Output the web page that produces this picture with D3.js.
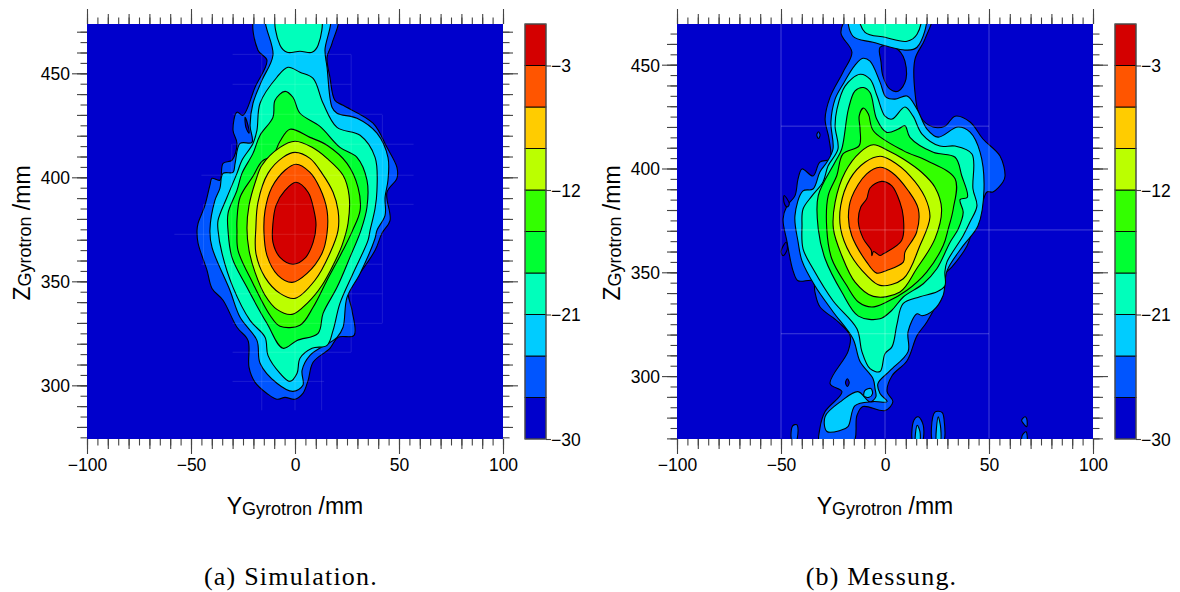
<!DOCTYPE html>
<html><head><meta charset="utf-8">
<script src="https://cdn.jsdelivr.net/npm/d3@7"></script>
<style>html,body{margin:0;padding:0;background:#fff}svg{display:block}</style>
</head><body><svg id="c" width="1180" height="592"></svg>
<script>
const bandLevels=[-30,-27,-24,-21,-18,-15,-12,-9,-6,-3,0];
const bandColors=["#0000cc","#0055ff","#00ccff","#00ffbb","#00ff33","#33ff00","#bbff00","#ffcc00","#ff5500","#d40000"];
const barLabels=[-3,-12,-21,-30];
const yTicks=[-100,-50,0,50,100];
const zTicks=[300,350,400,450];

/* Simulation contours: [Y mm, Z mm] */
const simM27=[[20.2,477.9],[17.8,464.4],[15.4,457.7],[16.8,448.1],[19.2,437],[23.1,434.6],[37.5,426],[44.2,414.4],[49,404.8],[49,399.5],[44.2,392.8],[45.7,379.3],[41.8,373.1],[38.5,364.9],[29.8,351.9],[25.5,345.7],[27.4,336.1],[28.4,324],[20.7,323.1],[16.8,317.8],[8.7,311.1],[6.3,302.4],[3.8,296.1],[0,293.3],[-4.8,294.2],[-8.7,293.3],[-13.5,296.1],[-19.2,301.4],[-22.1,308.6],[-22.6,321.6],[-27.9,327.9],[-34.6,340.9],[-39.9,346.6],[-42.3,355.3],[-46.6,368.3],[-47.1,374.5],[-46.6,377.9],[-43.3,386.5],[-40.9,396.2],[-39.9,399.5],[-36.1,398.6],[-34.6,406.7],[-30.3,408.2],[-27.9,416.3],[-29.8,422.6],[-27.9,431.3],[-25,429.8],[-19.2,443.3],[-13.5,456.3],[-17.8,461.1],[-18.8,477.9]];
const simHole=[[-24,428.8],[-22.6,425],[-22.1,421.2],[-23.6,424]];
const simM24=[[16.3,477.9],[14.4,461.1],[15.4,452.9],[17.8,433.7],[20.2,430.8],[29.8,428.4],[39.4,421.2],[44.7,409.6],[44.7,398.6],[43.3,390.4],[43.3,381.7],[39.4,374.5],[38.5,370.7],[31.3,353.8],[25,342.3],[23.1,327.9],[20.2,323.1],[7.2,314.4],[3.4,307.2],[3.8,300],[-1,297.1],[-8.7,301],[-16.8,310.6],[-18.3,321.6],[-26.4,332.7],[-31.3,345.7],[-39.9,366.3],[-40.9,374.5],[-38.5,388.9],[-36.1,394.7],[-34.6,401.9],[-29.8,402.4],[-28.8,406.7],[-26.4,416.3],[-20.7,416.8],[-21.6,425],[-20.2,435.6],[-15.9,446.6],[-10.6,458.7],[-13.5,477.9]];
const simM21=[[-3.4,452.9],[2.4,450.5],[8.7,447.6],[13.5,435.6],[20.2,424],[31.3,420.2],[38.5,409.6],[39.4,393.7],[38.5,385.1],[36.1,374.5],[35.1,369.7],[27.9,353.8],[21.6,339.4],[18.3,326.4],[15.4,319.2],[8.2,317.8],[2.4,313],[1,305.8],[-2.4,301.9],[-7.2,305.8],[-13,314.4],[-14.4,323.1],[-21.6,331.2],[-29.8,347.1],[-35.1,363.5],[-37,374.5],[-37,379.3],[-32.7,390.4],[-27.9,401.9],[-25.5,408.2],[-20.2,416.3],[-18.3,422.6],[-16.8,435.6],[-8.7,448.1]];
const simM21Top=[[-8.7,477.9],[-7.2,463.5],[-3.8,460.1],[2.4,460.6],[8.2,460.1],[11.1,463.5],[12,477.9]];
const simM18=[[-4.8,441.3],[-1,438.5],[2.4,430.8],[12,424.5],[21.6,414.4],[29.8,409.6],[34.6,398.6],[34.6,385.6],[31.7,374.5],[26.4,361.5],[20.2,347.1],[13.5,334.6],[11.1,325],[1,321.6],[-5.8,317.8],[-13.5,329.8],[-23.1,347.1],[-30.3,361.5],[-32.2,374.5],[-32.2,382.7],[-27.9,393.7],[-25.5,401.9],[-20.2,411.5],[-16.8,420.2],[-10.6,428.8],[-9.6,437]];
const simM15=[[-2.4,423.1],[7.2,419.2],[15.4,415.4],[25,406.7],[30.3,395.2],[31.3,384.1],[27.7,374.5],[23.1,365],[15.4,350.5],[8.7,337.5],[2.4,328.9],[-7.2,328.4],[-12,333.7],[-20.2,349],[-27.4,364.9],[-27.9,374.5],[-27.9,379.3],[-26.4,390.4],[-20.2,400.5],[-15.9,407.7],[-10.6,410.6],[-7.2,417.3]];
const simM12=[[0,417.3],[8.2,414.4],[15.4,409.1],[23.1,401],[26,391.3],[25.5,377.9],[22.6,367.3],[18.3,357.7],[13,348.1],[6.3,339.9],[-1.4,334.1],[-8.7,336.5],[-14.4,343.3],[-19.2,354.3],[-22.1,364.9],[-23.1,375.5],[-22.1,386.5],[-18.8,398.6],[-15.9,405.8],[-7.2,414.4]];
const simM9=[[0,412],[7.2,409.1],[13,401.9],[18.3,392.8],[20.7,384.1],[20.7,374.5],[16.8,363.5],[9.6,350.5],[0,341.8],[-7.2,344.2],[-14.4,351.9],[-18.8,363.5],[-18.8,376],[-17.8,388],[-13,401.9],[-5.8,409.6]];
const simM6=[[0.5,406.3],[7.2,402.4],[12,394.7],[15.4,384.1],[15.4,373.1],[13,363.5],[5.8,353.8],[-1.4,349.5],[-8.2,352.9],[-13.5,362.5],[-14.9,373.1],[-14.4,384.1],[-11.1,395.2],[-4.8,403.4]];
const simM3=[[0.5,397.6],[6.3,392.8],[9.1,384.1],[10.1,376.9],[8.7,368.7],[4.8,361.1],[-1,358.2],[-7.2,361.5],[-10.6,368.7],[-10.6,377.9],[-9.1,386.5],[-4.8,393.7]];

/* Measurement contours */
const mesM27=[[22.1,474.3],[19.2,462.3],[14.4,452.6],[14.4,436.8],[16.8,425.2],[23.1,420],[28.8,420.4],[33.7,425.2],[40.9,422.4],[47.1,414.2],[55.3,406],[57.7,396.4],[56.7,393.5],[51.9,388.7],[49,388.7],[45.7,379.1],[42.3,370.9],[39.4,362.7],[32.2,352.6],[27.9,348.3],[27.9,342],[20.2,326.2],[15.4,319.5],[10.6,307.4],[3.4,300.2],[1,292.5],[3.8,287.7],[0,283.4],[-10.6,285.3],[-13.5,281],[-15.4,267.5],[-31.3,267.5],[-31.3,274.8],[-28.8,282.9],[-20.7,292.5],[-26.4,296.4],[-17.8,311.8],[-16.8,319.5],[-22.6,326.2],[-31.3,333.4],[-33.7,340.6],[-34.6,345.9],[-41.8,345.9],[-44.2,350.7],[-47.1,364.7],[-49,375.7],[-47.1,382],[-43.3,386.8],[-41.8,395],[-39.9,399.8],[-34.6,396.4],[-31.3,403.1],[-26.4,404.6],[-26.9,414.2],[-28.8,423.8],[-26.4,434.4],[-20.2,446.4],[-15.9,456],[-21.2,465.6],[-15.9,474.3]];
const mesHole=[[-2.4,458.4],[3.4,458.9],[8.7,454.1],[10.1,443],[6.3,437.2],[2.4,438.2],[-1,444.5],[-1.9,451.2]];
const mesHoleA=[[-18.1,298.7],[-17.2,296.9],[-18.1,295],[-19,296.9]];
const mesHoleB=[[-48.5,387],[-46,383],[-47,381.5],[-48.5,383.5]];
const mesHoleC=[[-47.5,364.5],[-47,361],[-49,358],[-50,360]];
const mesIsle1=[[-44.8,269],[-44.4,276],[-42.4,276.6],[-41.8,274],[-43,268]];
const mesIsle2=[[13.6,268],[13.9,278.7],[16,280.4],[18.4,276.3],[17.6,268]];
const mesIsle3=[[23.2,268],[24,282.6],[27.4,282.5],[28.4,279],[27.9,268]];
const mesIsle4=[[65.7,278.7],[67.3,280.4],[68.1,279.6],[68.1,275.6],[66.5,277.2]];
const mesIsle5=[[66,271.5],[67.8,273.2],[68.1,268],[66,268]];
const mesIsle6=[[-32,417.7],[-31.2,416.1],[-32,414.5],[-32.8,416.1]];
const mesM24=[[-10.6,453.1],[-7.2,451.7],[-2.4,441.6],[0.5,434.4],[4.8,433.4],[10.6,434.9],[15.4,428.6],[20.2,419],[25.5,415.1],[35.1,420],[40.9,417.5],[45.7,407.9],[47.6,390.1],[44.7,372.4],[37.5,362.7],[29.8,350.7],[27.9,338.7],[23.1,331.5],[17.8,329.1],[15.4,330],[11.1,321.4],[11.1,311.8],[2.4,302.6],[-3.4,296.4],[-2.4,291.6],[1,287.7],[-5.8,287.7],[-14.4,285.8],[-17.8,275.7],[-21.6,273.8],[-27.9,273.3],[-28.8,280.5],[-20.7,288.2],[-13,292.5],[-7.2,287.6],[-4.4,290],[-4.8,294],[-5.8,298.8],[-12,307],[-15.4,318],[-25,331],[-33.7,343.5],[-39.9,355.5],[-41.8,364.7],[-43.3,377.2],[-39.4,389.2],[-34.6,390.1],[-31.3,398.3],[-27.9,403.1],[-25,409.4],[-26,422.4],[-24,433.4],[-20.2,440.6],[-14.4,449.8]];
const mesM24Top=[[-16.8,474.3],[-15.4,463.7],[-5.8,460.8],[10.6,457],[15.4,458.4],[19.2,474.3]];
const mesM24Isle2=[[14.8,268],[15.5,276.3],[16.8,273.3],[16.5,268]];
const mesM24Isle3=[[24.9,268],[25.6,280.4],[26.8,274.8],[26.4,268]];
const mesM24Ring=[[-9.6,293.1],[-6.8,294],[-6,291.6],[-7.6,289.8],[-10.1,290.4]];
const mesM21=[[-12,445.4],[-7.2,443],[-3.8,434.9],[0,425.2],[3.4,423.8],[9.6,429.6],[13.5,425.2],[17.8,416.6],[26.4,410.8],[33.7,410.8],[41.8,407],[42.3,390.1],[44.2,382],[40.9,374.3],[37.5,367.5],[29.8,355],[28.8,350.2],[28.8,343.5],[25,340.6],[16.8,338.2],[8.7,334.9],[5.8,325.2],[3.4,314.2],[0,310.8],[-2.4,302.2],[-7.2,303.6],[-11.1,311.8],[-13.5,322.8],[-25,336.3],[-34.6,351.7],[-39.4,361.3],[-39.9,372.4],[-39.4,380.5],[-35.1,386.8],[-29.8,393.5],[-27.4,401.2],[-22.6,409.4],[-24,420.4],[-23.1,428.6],[-19.2,439.7]];
const mesM21Top=[[-12,474.3],[-9.6,465.6],[0,463.2],[10.6,461.3],[15.4,464.7],[16.8,474.3]];
const mesM18=[[-10.4,439],[-7.2,436.6],[-4,423.8],[0.8,417.4],[6.4,419],[9.6,420.6],[12,415],[23.2,407.8],[33.7,405.4],[36.9,396.5],[39.6,386.2],[36.1,385],[37.6,378.9],[35.2,370.9],[31.3,364.5],[24.9,351.7],[18.4,344.5],[8.8,338.1],[3.2,331.6],[-2.4,327.6],[-12.8,328.9],[-20.8,340.5],[-28.8,356.5],[-32.1,370.9],[-32.1,386.9],[-24,403.1],[-20.8,409.4],[-17.6,428.6],[-14.4,437.4]];
const mesM15=[[-10.4,429.1],[-8,426.2],[-5.6,418.2],[8.8,408.6],[20,403.8],[33.7,395],[32.8,380.5],[30.4,370.9],[28,362.9],[20,350.1],[10.4,341.2],[0.8,335.7],[-6.4,333.3],[-12.8,335.7],[-18.4,343.6],[-25.6,356.5],[-28,370.9],[-27.3,386.9],[-23.2,396.5],[-20.2,407],[-12.4,411],[-12,419],[-12.4,425.4]];
const mesM12=[[-5.6,411.4],[1.6,408.6],[8.8,404.6],[17.6,398.2],[24,391],[27.2,380.5],[24,366.1],[15.2,351.7],[7.2,340.5],[-5.6,338.4],[-14.4,345.3],[-20.8,358.1],[-24.8,370.9],[-24,383.7],[-19.2,398.2],[-12,407.8]];
const mesM9=[[-2.4,405.9],[3.2,403.7],[12,396.5],[19.2,386.2],[21.6,376.5],[16.8,362.9],[8.8,346.9],[-2.4,343.7],[-8.8,348.5],[-16.8,358.9],[-21.3,370.9],[-21.3,382.1],[-16.8,395],[-9.6,403]];
const mesM6=[[-2.4,400.6],[3.2,398.2],[11.2,389.3],[16,380.5],[15.2,369.3],[9.6,359.7],[8.8,354.9],[0.8,350.9],[-4,349.6],[-8.8,354.9],[-16,367.7],[-17.6,376.5],[-16,386.2],[-8.8,397.4]];
const mesM3=[[-1.6,393.8],[3.2,391.7],[7.2,383.7],[8.8,376.5],[8,365.3],[-0.8,358.9],[-2.4,358.1],[-5.5,360],[-6.3,358],[-6.6,360.6],[-10.4,366.1],[-12.8,374.2],[-11.7,381.3],[-8.8,385.4],[-7.2,390.6]];

/* faint artefact lines: [y1,z1,y2,z2] */
const simFaint=[[-30,459.1,27,459.1],[-30,444.7,27,444.7],[-30,430.3,42,430.3],[-30,415.9,57,415.9],[-45,401,57,401],[-44,387,57,387],[-58,372.6,42,372.6],[-45,358.2,42,358.2],[-30,344,42,344],[-30,329.8,42,329.8],[-30,315.9,27,315.9],[-30,301.9,14,301.9],[-16,288,-16,459],[-30.4,345,-30.4,416],[-44,358,-44,387],[12.8,288,12.8,316],[27,316,27,459],[42,330,42,430],[0,288,0,460]];
const mesFaint=[[-50,270,-50,470],[50,270,50,470],[0,270,0,470],[-50,420.4,50,420.4],[-50,370.4,100,370.4],[-50,320.4,50,320.4]];

const simLayers=[[simM27,1],[simHole,0],[simM24,2],[simM21,3],[simM21Top,3],[simM18,4],[simM15,5],[simM12,6],[simM9,7],[simM6,8],[simM3,9]];
const mesLayers=[[mesM27,1],[mesHole,0],[mesHoleA,0],[mesHoleB,0],[mesHoleC,0],[mesIsle1,1],[mesIsle2,1],[mesIsle3,1],[mesIsle4,1],[mesIsle5,1],[mesIsle6,1],[mesM24,2],[mesM24Top,2],[mesM24Isle2,2],[mesM24Isle3,2],[mesM24Ring,2],[mesM21,3],[mesM21Top,3],[mesM18,4],[mesM15,5],[mesM12,6],[mesM9,7],[mesM6,8],[mesM3,9]];

const svg=d3.select("#c");
const sans="'Liberation Sans',Arial,sans-serif";
const tickCol="#444";

function tickAxes(g,gen,sc,vals5,size,tf,transform){
  const a=g.append("g").attr("transform",transform).call(gen(sc).tickValues(vals5).tickSize(size).tickFormat(tf));
  a.select(".domain").remove();
  a.selectAll("line").attr("stroke",tickCol).attr("stroke-width",1.1);
  a.selectAll("text").attr("font-family",sans).attr("font-size",17.5).attr("fill","#000");
  return a;
}

function panel(o){
  const g=svg.append("g");
  const x=d3.scaleLinear().domain([-100,100]).range([o.left,o.left+416]);
  const z=d3.scaleLinear().domain(o.zDom).range([439,24]);
  const id="clip"+o.left;
  svg.append("clipPath").attr("id",id).append("rect").attr("x",o.left).attr("y",24).attr("width",416).attr("height",415);
  g.append("rect").attr("x",o.left).attr("y",24).attr("width",416).attr("height",415).attr("fill",bandColors[0]);
  const plot=g.append("g").attr("clip-path",`url(#${id})`);
  const line=d3.line().x(d=>x(d[0])).y(d=>z(d[1])).curve(d3.curveCatmullRomClosed.alpha(0.5));
  plot.selectAll("path.b").data(o.layers).join("path").attr("class","b")
    .attr("d",d=>line(d[0])).attr("fill",d=>bandColors[d[1]]).attr("stroke","#000").attr("stroke-width",1.1);
  plot.selectAll("line.f").data(o.faint).join("line").attr("class","f")
    .attr("x1",d=>x(d[0])).attr("y1",d=>z(d[1])).attr("x2",d=>x(d[2])).attr("y2",d=>z(d[3]))
    .attr("stroke","#fff").attr("stroke-opacity",o.faintOp).attr("stroke-width",1);

  const xs5=d3.range(-100,101,5), xs10=d3.range(-100,101,10);
  const zs5=d3.range(Math.ceil(o.zDom[0]/5)*5,o.zDom[1]+0.01,5), zs10=zs5.filter(v=>v%10===0);
  const none=()=>"";
  [[xs5,6.5],[xs10,10],[yTicks,15]].forEach(([v,s])=>{
    tickAxes(g,d3.axisBottom,x,v,s,none,"translate(0,439)");
    tickAxes(g,d3.axisTop,x,v,s,none,"translate(0,24)");
  });
  [[zs5,6.5],[zs10,10],[zTicks,15]].forEach(([v,s])=>{
    tickAxes(g,d3.axisLeft,z,v,s,none,`translate(${o.left},0)`);
    tickAxes(g,d3.axisRight,z,v,s,none,`translate(${o.left+416},0)`);
  });
  const xl=tickAxes(g,d3.axisBottom,x,yTicks,15,d=>d3.format("")(d),"translate(0,439)");
  xl.selectAll("line").remove();
  xl.selectAll("text").attr("dy",0).attr("y",32);
  const zl=tickAxes(g,d3.axisLeft,z,zTicks,15,d=>d,`translate(${o.left},0)`);
  zl.selectAll("line").remove();
  zl.selectAll("text").attr("x",-17).attr("dy","0.36em");

  const xt=g.append("text").attr("x",o.left+208).attr("y",514).attr("text-anchor","middle").attr("font-family",sans).attr("fill","#000");
  xt.append("tspan").attr("font-size",23).text("Y");
  xt.append("tspan").attr("font-size",18).attr("dy",1).text("Gyrotron");
  xt.append("tspan").attr("font-size",23).attr("dy",-1).text(" /mm");
  const zt=g.append("text").attr("transform",`translate(${o.left-57},233) rotate(-90)`).attr("text-anchor","middle").attr("font-family",sans).attr("fill","#000");
  zt.append("tspan").attr("font-size",23).text("Z");
  zt.append("tspan").attr("font-size",18).attr("dy",1).text("Gyrotron");
  zt.append("tspan").attr("font-size",23).attr("dy",-1).text(" /mm");

  /* colour bar */
  const bx=o.left+438, bw=21;
  const c=d3.scaleLinear().domain([-30,0]).range([439,24]);
  const bands=bandColors.map((col,i)=>({col,lo:bandLevels[i],hi:bandLevels[i+1]}));
  g.selectAll("rect.bar"+o.left).data(bands).join("rect").attr("class","bar"+o.left)
    .attr("x",bx).attr("width",bw).attr("y",d=>c(d.hi)).attr("height",d=>c(d.lo)-c(d.hi))
    .attr("fill",d=>d.col).attr("stroke","#000").attr("stroke-width",0.9);
  g.append("rect").attr("x",bx).attr("y",24).attr("width",bw).attr("height",415).attr("fill","none").attr("stroke","#666").attr("stroke-width",1);
  const ca=g.append("g").attr("transform",`translate(${bx+bw},0)`).call(d3.axisRight(c).tickValues(barLabels).tickSize(5).tickPadding(0));
  ca.select(".domain").remove();
  ca.selectAll("line").attr("stroke",tickCol).attr("stroke-width",1.1);
  ca.selectAll("text").attr("font-family",sans).attr("font-size",17.5).attr("fill","#000").attr("x",5).attr("dy","0.36em");

  g.append("text").attr("x",o.capX).attr("y",585).attr("text-anchor","middle").attr("font-family","'Liberation Serif',serif").attr("font-size",26).attr("letter-spacing",1.2).attr("fill","#000").text(o.caption);
}

panel({left:87,zDom:[274.2,473.7],layers:simLayers,faint:simFaint,faintOp:0.11,capX:291,caption:"(a) Simulation."});
panel({left:677,zDom:[269.7,469.6],layers:mesLayers,faint:mesFaint,faintOp:0.25,capX:881.5,caption:"(b) Messung."});
</script></body></html>
